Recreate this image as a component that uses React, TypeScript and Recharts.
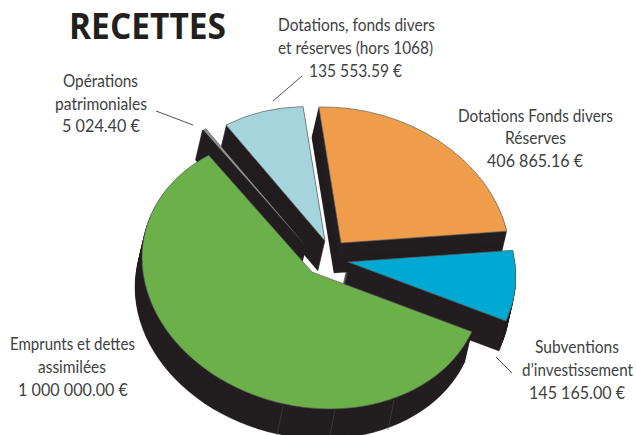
import React from 'react';
import { PieChart, Pie, Cell } from 'recharts';

const W = 636;
const H = 435;

// clockwise from the right-hand edge of the blue slice
const sliceNames = [
  "Subventions d'investissement",
  'Emprunts et dettes assimilées',
  'Opérations patrimoniales',
  'Dotations, fonds divers et réserves (hors 1068)',
  'Dotations Fonds divers Réserves',
];
const sliceValues = [145165.0, 1000000.0, 5024.4, 135553.59, 406865.16];
const sliceColors = ['#00a9d1', '#6cb04a', '#8f9194', '#a5d4dc', '#ef9c4b'];

// exploded position of each slice tip on the page, and its radius
const tips: [number, number][] = [[348, 262], [312, 272], [306, 246], [325, 241], [341, 243]];
const radii = [167, 169, 168, 166, 168];
const drawOrder = [3, 2, 4, 0, 1];
const GREY_SLICE = 2;

const WALL = '#231f20';
const EDGE = '#58595b';
const TEXT = '#403f41';

// fake 3D: the chart is squashed and sheared, the walls are stacked copies
const SQUASH = 0.81;
const SHEAR = 0.13;
const PAD = 60;
const DEPTH = 30;
const WALL_DX = -7;
const START_ANGLE = 5;

const chartData = sliceNames.map((name, i) => ({ name, value: sliceValues[i] }));

const toChart = (x: number, y: number) => ({
  cx: x - SHEAR * y + PAD,
  cy: y / SQUASH,
});

// x is the right end of each line, w its width on the page
type TextLine = { t: string; x: number; w: number; y: number };

const labelLines: TextLine[] = [
  { t: 'Opérations', x: 138, w: 75, y: 87 },
  { t: 'patrimoniales', x: 147, w: 92, y: 110 },
  { t: '5 024.40 €', x: 140, w: 78, y: 132 },
  { t: 'Dotations, fonds divers', x: 435, w: 157, y: 31 },
  { t: 'et réserves (hors 1068)', x: 433, w: 155, y: 54 },
  { t: '135 553.59 €', x: 402, w: 93, y: 77 },
  { t: 'Dotations Fonds divers', x: 613, w: 155, y: 122 },
  { t: 'Réserves', x: 566, w: 61, y: 144 },
  { t: '406 865.16 €', x: 583, w: 96, y: 167 },
  { t: 'Subventions', x: 619, w: 84, y: 353 },
  { t: 'd’investissement', x: 633, w: 111, y: 376 },
  { t: '145 165.00 €', x: 625, w: 96, y: 399 },
  { t: 'Emprunts et dettes', x: 135, w: 125, y: 350 },
  { t: 'assimilées', x: 106, w: 68, y: 373 },
  { t: '1 000 000.00 €', x: 128, w: 110, y: 396 },
];

const leaders = [
  [156, 111, 193, 125],
  [273, 101, 302, 76],
  [496, 357, 512, 373],
];

// faint seams on the green wall
const seams = [
  [283, 406, 277, 435],
  [335, 410, 330, 435],
  [394, 400, 388, 430],
];

const SliceLayer = (slice: number, shift: number) => {
  const isTop = shift === 0;
  const isGrey = slice === GREY_SLICE;
  const [tx, ty] = tips[slice];
  const pos = toChart(tx + (WALL_DX * shift) / DEPTH, ty + shift);
  const topStroke = isGrey ? 'none' : EDGE;
  return (
    <Pie
      key={`${slice}-${shift}`}
      data={chartData}
      dataKey="value"
      nameKey="name"
      cx={pos.cx}
      cy={pos.cy}
      innerRadius={0}
      outerRadius={radii[slice]}
      startAngle={START_ANGLE}
      endAngle={START_ANGLE - 360}
      isAnimationActive={false}
      label={false}
      labelLine={false}
      rootTabIndex={-1}
    >
      {chartData.map((_, i) => (
        <Cell
          key={i}
          fill={i !== slice ? 'none' : isTop ? sliceColors[i] : WALL}
          stroke={i !== slice ? 'none' : isTop ? topStroke : WALL}
          strokeWidth={isTop ? 0.7 : isGrey ? 2 : 0.4}
        />
      ))}
    </Pie>
  );
};

const App = () => {
  const shifts = Array.from({ length: DEPTH + 1 }, (_, i) => DEPTH - i);
  return (
    <div style={{ position: 'absolute', left: 0, top: 0, width: W, height: H, overflow: 'hidden', background: '#fff' }}>
      <div
        style={{
          position: 'absolute',
          left: 0,
          top: 0,
          transformOrigin: '0 0',
          transform: `matrix(1, 0, ${SHEAR * SQUASH}, ${SQUASH}, ${-PAD}, 0)`,
        }}
      >
        <PieChart width={W + 2 * PAD} height={Math.ceil(H / SQUASH)} margin={{ top: 0, right: 0, bottom: 0, left: 0 }}>
          {drawOrder.map((slice) => shifts.map((shift) => SliceLayer(slice, shift)))}
        </PieChart>
      </div>
      <svg width={W} height={H} style={{ position: 'absolute', left: 0, top: 0 }}>
        <text
          x={69}
          y={39}
          textLength={157}
          lengthAdjust="spacingAndGlyphs"
          fontFamily="'Open Sans', sans-serif"
          fontWeight={700}
          fontSize={36}
          fill="#231f20"
        >
          RECETTES
        </text>
        {labelLines.map((l) => (
          <text
            key={l.t}
            x={l.x}
            y={l.y}
            textAnchor="end"
            textLength={l.w}
            lengthAdjust="spacingAndGlyphs"
            fontFamily="Lato, sans-serif"
            fontSize={18}
            fill={TEXT}
          >
            {l.t}
          </text>
        ))}
        {leaders.map((p, i) => (
          <line key={i} x1={p[0]} y1={p[1]} x2={p[2]} y2={p[3]} stroke="#3c3b3d" strokeWidth={0.9} />
        ))}
        {seams.map((p, i) => (
          <line key={i} x1={p[0]} y1={p[1]} x2={p[2]} y2={p[3]} stroke="#55524f" strokeWidth={0.5} />
        ))}
      </svg>
    </div>
  );
};

export default App;
